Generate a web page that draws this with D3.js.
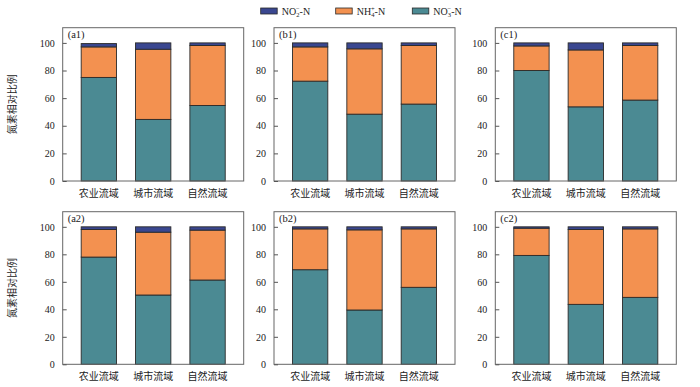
<!DOCTYPE html>
<html><head><meta charset="utf-8">
<script src="https://cdn.jsdelivr.net/npm/d3@7"></script>
<style>body{margin:0;background:#fff}</style>
</head><body><svg id="c" width="700" height="387"></svg>
<script>
const categories = ["农业流域", "城市流域", "自然流域"];
const panelLabels = ["(a1)", "(b1)", "(c1)", "(a2)", "(b2)", "(c2)"];
const no3 = [[75, 44.6, 54.7], [72.3, 48.4, 55.7], [80, 53.7, 58.6], [78, 50.4, 61.3], [68.8, 39.5, 56], [79.2, 43.6, 48.7]];
const nh4 = [[22.1, 50.8, 43.4], [24.8, 47.3, 42.4], [17.8, 41.2, 39.5], [20.1, 45.7, 36.3], [29.7, 58.3, 42.5], [19.8, 54.5, 49.8]];
const no2 = [[2.4, 4.6, 1.9], [2.9, 4.3, 1.9], [2.2, 5.1, 1.9], [1.9, 3.9, 2.4], [1.5, 2.2, 1.5], [1.0, 1.9, 1.5]];
const yTicks = [0, 20, 40, 60, 80, 100];
const seriesNames = ["NO3", "NH4", "NO2"];
const colors = {NO3: "#4b8a93", NH4: "#f39150", NO2: "#3a4790"};

const svg = d3.select("#c");
const serif = "'Liberation Serif','Times New Roman',serif";
const cjk = "'Noto Sans CJK SC',sans-serif";

const colLeft = [62.7, 274, 495.3];
const rowTop = [27.7, 211.7];
const W = 181, H = [153.3, 152.6];

panelLabels.forEach((lab, i) => {
  const col = i % 3, row = Math.floor(i / 3);
  const g = svg.append("g").attr("transform", `translate(${colLeft[col]},${rowTop[row]})`);
  const h = H[row];
  const x = d3.scaleBand().domain(categories).range([0, W]).paddingInner(0.35).paddingOuter(0.34);
  const y = d3.scaleLinear().domain([0, 111]).range([h, 0]);
  const rows = categories.map((c, j) => ({cat: c, NO3: no3[i][j], NH4: nh4[i][j], NO2: no2[i][j]}));
  const stack = d3.stack().keys(seriesNames)(rows);
  stack.forEach(s => {
    g.selectAll(null).data(s).enter().append("rect")
      .attr("x", d => x(d.data.cat))
      .attr("width", x.bandwidth())
      .attr("y", d => y(d[1]))
      .attr("height", d => y(d[0]) - y(d[1]))
      .attr("fill", colors[s.key])
      .attr("stroke", "#2a2a2a").attr("stroke-width", 0.9);
  });
  // frame
  g.append("rect").attr("x", 0).attr("y", 0).attr("width", W).attr("height", h)
    .attr("fill", "none").attr("stroke", "#666").attr("stroke-width", 1);
  const ax = g.append("g").call(d3.axisLeft(y).tickValues(yTicks).tickSize(-4).tickPadding(8));
  ax.select(".domain").remove();
  ax.selectAll(".tick line").attr("stroke", "#555");
  ax.selectAll("text").attr("font-family", serif).attr("font-size", 10).attr("fill", "#222");
  // x labels
  g.selectAll(null).data(categories).enter().append("text")
    .attr("x", d => x(d) + x.bandwidth() / 2).attr("y", h + 16)
    .attr("text-anchor", "middle").attr("font-family", cjk).attr("font-size", 10).attr("fill", "#222")
    .text(d => d);
  g.append("text").attr("x", 5).attr("y", 10.5).attr("font-family", serif).attr("font-size", 10.5)
    .attr("fill", "#222").text(lab);
  if (col === 0) {
    svg.append("text").attr("transform", `translate(16,${rowTop[row] + h / 2}) rotate(-90)`)
      .attr("text-anchor", "middle").attr("font-family", cjk).attr("font-size", 10).attr("fill", "#222")
      .text("氮素相对比例");
  }
});

// legend
const legend = [
  {key: "NO2", x: 260.7, base: "NO", sub: "2", sup: "−"},
  {key: "NH4", x: 335.7, base: "NH", sub: "4", sup: "+"},
  {key: "NO3", x: 412.3, base: "NO", sub: "3", sup: "−"}
];
legend.forEach(l => {
  svg.append("rect").attr("x", l.x).attr("y", 8).attr("width", 16.5).attr("height", 6)
    .attr("fill", colors[l.key]).attr("stroke", "#2a2a2a").attr("stroke-width", 0.8);
  const t = svg.append("text").attr("x", l.x + 21).attr("y", 14.5).attr("font-family", serif)
    .attr("font-size", 10).attr("fill", "#222");
  t.append("tspan").text(l.base);
  t.append("tspan").attr("font-size", 6.5).attr("dy", 2).text(l.sub);
  t.append("tspan").attr("font-size", 6.5).attr("dx", -3.5).attr("dy", -6).text(l.sup);
  t.append("tspan").attr("dy", 4).text("-N");
});
</script></body></html>
